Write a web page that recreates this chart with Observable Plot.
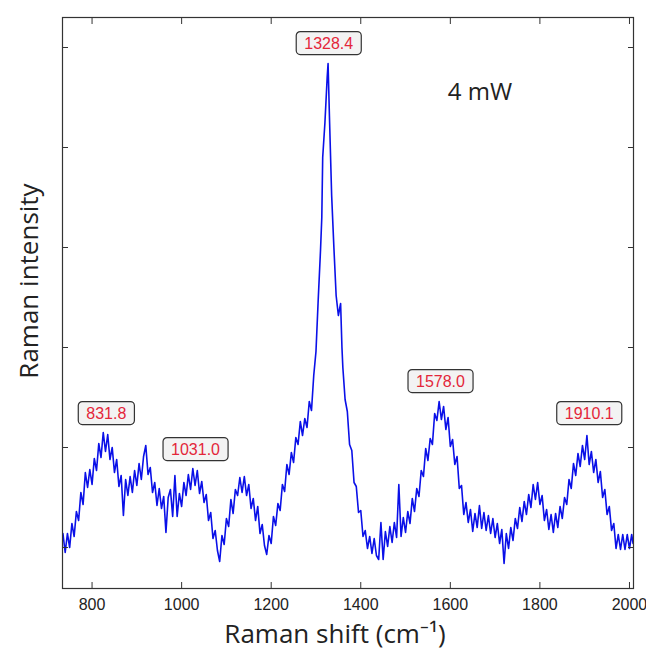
<!DOCTYPE html>
<html><head><meta charset="utf-8">
<script src="https://cdn.jsdelivr.net/npm/d3@7"></script>
<script src="https://cdn.jsdelivr.net/npm/@observablehq/plot@0.6"></script>
<style>body{margin:0;background:#fff;}</style>
</head><body><div id="chart"></div>
<script>
// Raman spectrum (arbitrary intensity units)
const shift = [
 735,740,745,750,755,760,765,770,775,780,785,790,795,800,805,810,815,820,825,830,
 835,840,845,850,855,860,865,870,875,880,885,890,895,900,905,910,915,920,925,930,
 935,940,945,950,955,960,965,970,975,980,985,990,995,1000,1005,1010,1015,1020,1025,1030,
 1035,1040,1045,1050,1055,1060,1065,1070,1075,1080,1085,1090,1095,1100,1105,1110,1115,1120,1125,1130,
 1135,1140,1145,1150,1155,1160,1165,1170,1175,1180,1185,1190,1195,1200,1205,1210,1215,1220,1225,1230,
 1235,1240,1245,1250,1255,1260,1265,1270,1275,1280,1285,1290,1295,1300,1305,1310,1313,1315,1320,1325,
 1327,1330,1335,1340,1345,1350,1355,1358,1360,1365,1370,1375,1380,1385,1390,1395,1400,1405,1410,1415,
 1420,1425,1430,1435,1440,1445,1450,1455,1460,1465,1470,1475,1480,1485,1490,1495,1500,1505,1510,1515,
 1520,1525,1530,1535,1540,1545,1550,1555,1560,1565,1570,1575,1580,1585,1590,1595,1600,1605,1610,1615,
 1620,1625,1630,1635,1640,1645,1650,1655,1660,1665,1670,1675,1680,1685,1690,1695,1700,1705,1710,1715,
 1720,1725,1730,1735,1740,1745,1750,1755,1760,1765,1770,1775,1780,1785,1790,1795,1800,1805,1810,1815,
 1820,1825,1830,1835,1840,1845,1850,1855,1860,1865,1870,1875,1880,1885,1890,1895,1900,1905,1910,1915,
 1920,1925,1930,1935,1940,1945,1950,1955,1960,1965,1970,1975,1980,1985,1990,1995,2000,2005,2008
];
const intensity = [
 14,-5,14,0,24,11,36,27,55,43,75,60,78,63,89,77,104,90,115,96,
 113,88,100,75,88,61,72,32,68,52,71,55,77,62,84,68,91,102,73,80,
 55,65,42,59,39,51,15,50,58,31,72,31,54,41,65,52,73,58,79,62,
 77,54,66,45,53,27,35,9,17,-3,-14,12,3,29,21,48,34,58,52,70,
 55,71,52,63,39,49,27,41,14,23,2,-7,12,4,31,22,44,37,63,56,
 83,73,95,85,110,103,126,112,129,120,146,137,172,196,248,296,330,390,425,470,
 484,432,352,300,252,232,244,200,180,148,136,103,97,65,61,35,37,11,17,-1,
 11,-6,9,-8,-12,25,-12,16,1,21,5,25,10,63,11,30,15,36,24,49,
 36,59,51,77,71,99,87,109,103,134,127,146,128,141,118,130,101,108,83,91,
 59,62,33,45,25,38,16,34,20,42,19,35,17,32,14,29,10,24,4,18,
 -16,14,-1,20,7,29,19,40,26,46,33,53,40,63,48,65,43,52,27,38,
 18,33,15,34,20,41,29,50,43,68,59,84,72,94,81,102,88,112,83,96,
 75,88,65,76,50,58,33,41,17,24,-1,13,-2,13,-2,13,-1,13,4
];
const peaks = [831.8, 1031.0, 1328.4, 1578.0, 1910.1];
const peakLabels = ["831.8", "1031.0", "1328.4", "1578.0", "1910.1"];
const peakLabelY = [134, 98, 504, 166, 134];
const xTicks = [800, 1000, 1200, 1400, 1600, 1800, 2000];
const yTicks = [0, 100, 200, 300, 400, 500];
const powerLabel = "4 mW";
const powerX = 1666, powerY = 455;
const xTitle = "Raman shift (cm\u207B\u00B9)";
const yTitle = "Raman intensity";

const data = shift.map((x, i) => ({x, y: intensity[i]}));
const labels = peaks.map((p, i) => ({x: p, y: peakLabelY[i], t: peakLabels[i]}));

const plot = Plot.plot({
  width: 646, height: 650,
  marginLeft: 62, marginRight: 13, marginTop: 17, marginBottom: 62,
  style: {fontFamily: "'Liberation Sans', Arial, sans-serif", background: "#fff", color: "#222"},
  x: {domain: [734, 2009]},
  y: {domain: [-41, 530]},
  marks: [
    Plot.line(data, {x: "x", y: "y", stroke: "#0a10e8", strokeWidth: 1.6}),
    Plot.frame({stroke: "#333", strokeWidth: 1.2}),
    Plot.axisX({anchor: "bottom", ticks: xTicks, tickSize: -6, fill: "none", label: null, stroke: "#333"}),
    Plot.axisX({anchor: "top", ticks: xTicks, tickSize: -6, fill: "none", label: null, stroke: "#333"}),
    Plot.axisY({anchor: "left", ticks: yTicks, tickSize: -6, fill: "none", label: null, stroke: "#333"}),
    Plot.axisY({anchor: "right", ticks: yTicks, tickSize: -6, fill: "none", label: null, stroke: "#333"}),
    Plot.axisX({anchor: "bottom", ticks: xTicks, tickSize: 0, tickPadding: 10, tickFormat: d3.format("d"), label: null, fontSize: 16, fill: "#222"}),
    Plot.text([xTitle], {frameAnchor: "bottom", dy: 54, dx: -13, fontSize: 26, fontFamily: "'Open Sans', sans-serif", fill: "#222"}),
    Plot.text([yTitle], {frameAnchor: "left", textAnchor: "middle", rotate: -90, dx: -33, dy: -22, fontSize: 26, fontFamily: "'Open Sans', sans-serif", fill: "#222"}),
    Plot.text([powerLabel], {x: () => powerX, y: () => powerY, fontSize: 24, fontFamily: "'Open Sans', sans-serif", fill: "#222"}),
    Plot.text(labels, {x: "x", y: "y", text: "t", fontSize: 16, fill: "#e3263a"})
  ]
});
document.getElementById("chart").append(plot);
plot.querySelectorAll("text").forEach(t => {
  if (!peakLabels.includes(t.textContent)) return;
  const b = t.getBBox();
  const r = document.createElementNS("http://www.w3.org/2000/svg", "rect");
  r.setAttribute("x", b.x - 8);
  r.setAttribute("y", b.y - 3);
  r.setAttribute("width", b.width + 16);
  r.setAttribute("height", b.height + 6);
  r.setAttribute("rx", 4);
  r.setAttribute("fill", "#f3f3f3");
  r.setAttribute("stroke", "#333");
  r.setAttribute("stroke-width", 1.2);
  const tr = t.getAttribute("transform");
  if (tr) r.setAttribute("transform", tr);
  t.parentNode.insertBefore(r, t);
});
</script>
</body></html>
